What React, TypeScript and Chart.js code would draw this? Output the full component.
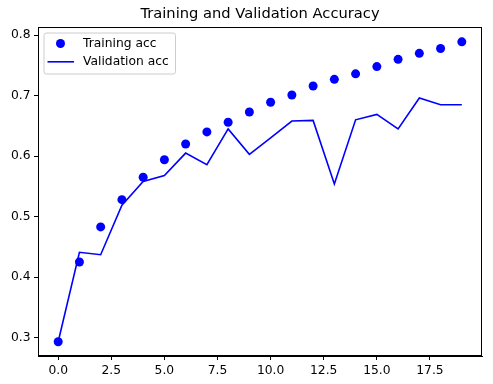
import React, { useEffect, useRef } from "react";
import { Chart, registerables } from "chart.js";

Chart.register(...registerables);

const epochs = [0, 1, 2, 3, 4, 5, 6, 7, 8, 9, 10, 11, 12, 13, 14, 15, 16, 17, 18, 19];
const trainingAcc = [0.293, 0.425, 0.483, 0.528, 0.565, 0.594, 0.620, 0.640, 0.656, 0.673, 0.689, 0.701, 0.716, 0.727, 0.736, 0.748, 0.760, 0.770, 0.778, 0.789];
const validationAcc = [0.293, 0.441, 0.437, 0.519, 0.558, 0.568, 0.605, 0.586, 0.645, 0.603, 0.630, 0.658, 0.659, 0.554, 0.660, 0.669, 0.645, 0.696, 0.685, 0.685];
const xTicks = [0, 2.5, 5, 7.5, 10, 12.5, 15, 17.5];
const yTicks = [0.3, 0.4, 0.5, 0.6, 0.7, 0.8];
const titleText = "Training and Validation Accuracy";
const seriesLabels = ["Training acc", "Validation acc"];

const FONT = "'DejaVu Sans', sans-serif";
const BLUE = "#0000ff";
const TICK_SIZE = 12.3;
const TITLE_SIZE = 14.7;

const decorPlugin = {
  id: "decor",
  afterDatasetsDraw(chart: any) {
    const ctx = chart.ctx;
    const a = chart.chartArea;
    ctx.save();
    const lx = a.left + 6, ly = a.top + 6, lw = 131.5, lh = 41;
    ctx.beginPath();
    const r = 2.5;
    ctx.moveTo(lx + r, ly);
    ctx.lineTo(lx + lw - r, ly);
    ctx.quadraticCurveTo(lx + lw, ly, lx + lw, ly + r);
    ctx.lineTo(lx + lw, ly + lh - r);
    ctx.quadraticCurveTo(lx + lw, ly + lh, lx + lw - r, ly + lh);
    ctx.lineTo(lx + r, ly + lh);
    ctx.quadraticCurveTo(lx, ly + lh, lx, ly + lh - r);
    ctx.lineTo(lx, ly + r);
    ctx.quadraticCurveTo(lx, ly, lx + r, ly);
    ctx.closePath();
    ctx.fillStyle = "rgba(255,255,255,0.8)";
    ctx.fill();
    ctx.strokeStyle = "#cccccc";
    ctx.lineWidth = 1;
    ctx.stroke();
    ctx.fillStyle = BLUE;
    ctx.beginPath();
    ctx.arc(lx + 16.5, ly + 10.5, 4.5, 0, Math.PI * 2);
    ctx.fill();
    ctx.strokeStyle = BLUE;
    ctx.lineWidth = 1.6;
    ctx.beginPath();
    ctx.moveTo(lx + 3.5, ly + 28.8);
    ctx.lineTo(lx + 30, ly + 28.8);
    ctx.stroke();
    ctx.fillStyle = "#000";
    ctx.font = `${TICK_SIZE}px ${FONT}`;
    ctx.textBaseline = "middle";
    ctx.textAlign = "left";
    ctx.fillText(seriesLabels[0], lx + 39, ly + 11);
    ctx.fillText(seriesLabels[1], lx + 39, ly + 29.2);
    ctx.restore();
  },
  afterDraw(chart: any) {
    const ctx = chart.ctx;
    const a = chart.chartArea;
    ctx.save();
    ctx.strokeStyle = "#000";
    ctx.lineWidth = 1;
    ctx.strokeRect(a.left + 0.5, a.top + 0.5, a.right - a.left - 1, a.bottom - a.top - 1);
    ctx.fillStyle = "#000";
    ctx.font = `${TITLE_SIZE}px ${FONT}`;
    ctx.textAlign = "center";
    ctx.textBaseline = "middle";
    ctx.fillText(titleText, (a.left + a.right) / 2, 14.5);
    ctx.restore();
  },
};

export default function App() {
  const ref = useRef<HTMLCanvasElement | null>(null);
  useEffect(() => {
    if (!ref.current) return;
    const chart = new Chart(ref.current, {
      type: "scatter",
      data: {
        datasets: [
          {
            label: seriesLabels[0],
            data: epochs.map((e, i) => ({ x: e, y: trainingAcc[i] })),
            showLine: false,
            pointRadius: 4.5,
            pointBackgroundColor: BLUE,
            pointBorderWidth: 0,
            borderColor: BLUE,
            backgroundColor: BLUE,
          },
          {
            label: seriesLabels[1],
            data: epochs.map((e, i) => ({ x: e, y: validationAcc[i] })),
            showLine: true,
            pointRadius: 0,
            borderColor: BLUE,
            borderWidth: 1.6,
            backgroundColor: BLUE,
            tension: 0,
          },
        ],
      },
      options: {
        responsive: false,
        animation: false,
        layout: { padding: { left: 0, right: 11, top: 27, bottom: 0 } },
        plugins: {
          legend: { display: false },
          title: { display: false },
          tooltip: { enabled: false },
        },
        scales: {
          x: {
            type: "linear",
            min: -0.95,
            max: 19.95,
            afterBuildTicks: (axis: any) => {
              axis.ticks = xTicks.map((v) => ({ value: v }));
            },
            afterFit: (s: any) => {
              s.height = 28;
            },
            ticks: {
              color: "#000",
              font: { family: FONT, size: TICK_SIZE },
              padding: 3.5,
              maxRotation: 0,
              autoSkip: false,
              callback: (v: any) => Number(v).toFixed(1),
            },
            grid: { drawOnChartArea: false, drawTicks: true, tickLength: 4, color: "#000" },
            border: { display: true, color: "#000", width: 1 },
          },
          y: {
            type: "linear",
            min: 0.2695,
            max: 0.8135,
            afterBuildTicks: (axis: any) => {
              axis.ticks = yTicks.map((v) => ({ value: v }));
            },
            afterFit: (s: any) => {
              s.width = 38;
            },
            ticks: {
              color: "#000",
              font: { family: FONT, size: TICK_SIZE },
              padding: 3.5,
              autoSkip: false,
              callback: (v: any) => Number(v).toFixed(1),
            },
            grid: { drawOnChartArea: false, drawTicks: true, tickLength: 4, color: "#000" },
            border: { display: true, color: "#000", width: 1 },
          },
        },
      },
      plugins: [decorPlugin],
    } as any);
    return () => chart.destroy();
  }, []);
  return (
    <div style={{ position: "absolute", left: 0, top: 0, width: 493, height: 384, background: "#fff" }}>
      <canvas ref={ref} width={493} height={384} />
    </div>
  );
}
